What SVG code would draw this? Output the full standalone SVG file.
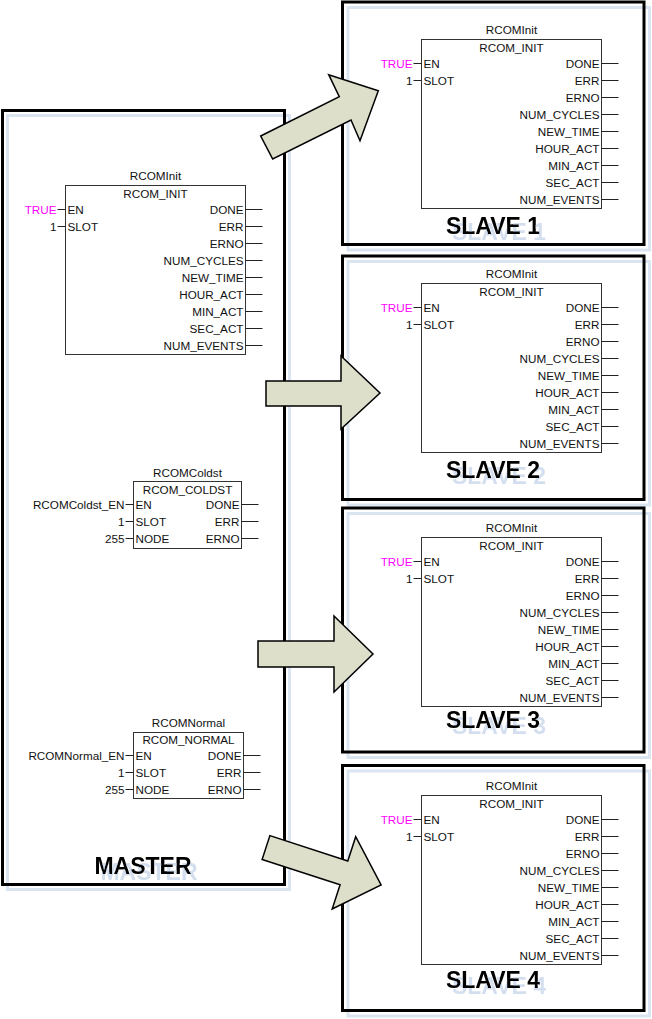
<svg xmlns="http://www.w3.org/2000/svg" width="652" height="1019" viewBox="0 0 652 1019">
<style>
text{font-family:"Liberation Sans",Arial,sans-serif;font-size:11.7px;fill:#111}
.m{text-anchor:middle}
.e{text-anchor:end}
.t{fill:#ff00ff}
.box{fill:#fff;stroke:#333;stroke-width:1}
.pin{stroke:#222;stroke-width:1}
.frame{fill:none;stroke:#000;stroke-width:3}
.shadow{fill:none;stroke:#dbe5f1;stroke-width:3}
.big{font-size:23px;font-weight:bold;fill:#000;text-anchor:middle;filter:url(#ts)}
.arrow{fill:#dddfcb;stroke:#000;stroke-width:1.5;stroke-linejoin:miter}
</style>
<defs>
<filter id="ts" x="-20%" y="-50%" width="140%" height="200%">
<feOffset in="SourceAlpha" dx="6" dy="6" result="o"/>
<feFlood flood-color="#d3deee"/>
<feComposite in2="o" operator="in" result="s"/>
<feMerge><feMergeNode in="s"/><feMergeNode in="SourceGraphic"/></feMerge>
</filter>
</defs>
<rect width="652" height="1019" fill="#fff"/>

<!-- frame shadows -->
<g id="shadows">
<rect class="shadow" x="7.5" y="115.5" width="282" height="774"/>
<rect class="shadow" x="348" y="7.5" width="301.5" height="242.5"/>
<rect class="shadow" x="348" y="261.5" width="301.5" height="243.5"/>
<rect class="shadow" x="348" y="513.5" width="301.5" height="244"/>
<rect class="shadow" x="348" y="771" width="301.5" height="245"/>
</g>

<!-- MASTER -->
<g id="master">
<rect class="frame" x="2.5" y="110.5" width="282" height="774"/>
<text class="big" x="143" y="874">MASTER</text>

<g id="master-rcominit" transform="translate(65.5,185.5)">
<text class="m" x="90" y="-6">RCOMInit</text>
<rect class="box" x="0" y="0" width="180" height="169"/>
<text class="m" x="90" y="12">RCOM_INIT</text>
<line class="pin" x1="-8" y1="24" x2="0" y2="24"/><line class="pin" x1="-8" y1="41" x2="0" y2="41"/>
<text class="e t" x="-9" y="28">TRUE</text><text class="e" x="-9" y="45">1</text>
<text x="2" y="28">EN</text><text x="2" y="45">SLOT</text>
<g class="pin"><line x1="180" y1="24" x2="197" y2="24"/><line x1="180" y1="41" x2="197" y2="41"/><line x1="180" y1="58" x2="197" y2="58"/><line x1="180" y1="75" x2="197" y2="75"/><line x1="180" y1="92" x2="197" y2="92"/><line x1="180" y1="109" x2="197" y2="109"/><line x1="180" y1="126" x2="197" y2="126"/><line x1="180" y1="143" x2="197" y2="143"/><line x1="180" y1="160" x2="197" y2="160"/></g>
<text class="e" x="178" y="28">DONE</text><text class="e" x="178" y="45">ERR</text><text class="e" x="178" y="62">ERNO</text><text class="e" x="178" y="79">NUM_CYCLES</text><text class="e" x="178" y="96">NEW_TIME</text><text class="e" x="178" y="113">HOUR_ACT</text><text class="e" x="178" y="130">MIN_ACT</text><text class="e" x="178" y="147">SEC_ACT</text><text class="e" x="178" y="164">NUM_EVENTS</text>
</g>

<g id="master-rcomcoldst" transform="translate(133.5,481.5)">
<text class="m" x="54" y="-5">RCOMColdst</text>
<rect class="box" x="0" y="0" width="108" height="67"/>
<text class="m" x="54" y="12">RCOM_COLDST</text>
<g class="pin"><line x1="-8" y1="23" x2="0" y2="23"/><line x1="-8" y1="40" x2="0" y2="40"/><line x1="-8" y1="57" x2="0" y2="57"/><line x1="108" y1="23" x2="125" y2="23"/><line x1="108" y1="40" x2="125" y2="40"/><line x1="108" y1="57" x2="125" y2="57"/></g>
<text class="e" x="-9" y="27">RCOMColdst_EN</text><text class="e" x="-9" y="44">1</text><text class="e" x="-9" y="61">255</text>
<text x="2" y="27">EN</text><text x="2" y="44">SLOT</text><text x="2" y="61">NODE</text>
<text class="e" x="106" y="27">DONE</text><text class="e" x="106" y="44">ERR</text><text class="e" x="106" y="61">ERNO</text>
</g>

<g id="master-rcomnormal" transform="translate(133.5,732.5)">
<text class="m" x="55" y="-6">RCOMNormal</text>
<rect class="box" x="0" y="0" width="110" height="66"/>
<text class="m" x="55" y="11">RCOM_NORMAL</text>
<g class="pin"><line x1="-8" y1="23" x2="0" y2="23"/><line x1="-8" y1="40" x2="0" y2="40"/><line x1="-8" y1="57" x2="0" y2="57"/><line x1="110" y1="23" x2="127" y2="23"/><line x1="110" y1="40" x2="127" y2="40"/><line x1="110" y1="57" x2="127" y2="57"/></g>
<text class="e" x="-9" y="27">RCOMNormal_EN</text><text class="e" x="-9" y="44">1</text><text class="e" x="-9" y="61">255</text>
<text x="2" y="27">EN</text><text x="2" y="44">SLOT</text><text x="2" y="61">NODE</text>
<text class="e" x="108" y="27">DONE</text><text class="e" x="108" y="44">ERR</text><text class="e" x="108" y="61">ERNO</text>
</g>
</g>

<!-- SLAVE 1 -->
<g id="slave1">
<rect class="frame" x="342.5" y="2" width="301.5" height="242.5"/>
<text class="big" x="493" y="234">SLAVE 1</text>
<g transform="translate(421.5,39.5)">
<text class="m" x="90" y="-6">RCOMInit</text>
<rect class="box" x="0" y="0" width="180" height="169"/>
<text class="m" x="90" y="12">RCOM_INIT</text>
<line class="pin" x1="-8" y1="24" x2="0" y2="24"/><line class="pin" x1="-8" y1="41" x2="0" y2="41"/>
<text class="e t" x="-9" y="28">TRUE</text><text class="e" x="-9" y="45">1</text>
<text x="2" y="28">EN</text><text x="2" y="45">SLOT</text>
<g class="pin"><line x1="180" y1="24" x2="197" y2="24"/><line x1="180" y1="41" x2="197" y2="41"/><line x1="180" y1="58" x2="197" y2="58"/><line x1="180" y1="75" x2="197" y2="75"/><line x1="180" y1="92" x2="197" y2="92"/><line x1="180" y1="109" x2="197" y2="109"/><line x1="180" y1="126" x2="197" y2="126"/><line x1="180" y1="143" x2="197" y2="143"/><line x1="180" y1="160" x2="197" y2="160"/></g>
<text class="e" x="178" y="28">DONE</text><text class="e" x="178" y="45">ERR</text><text class="e" x="178" y="62">ERNO</text><text class="e" x="178" y="79">NUM_CYCLES</text><text class="e" x="178" y="96">NEW_TIME</text><text class="e" x="178" y="113">HOUR_ACT</text><text class="e" x="178" y="130">MIN_ACT</text><text class="e" x="178" y="147">SEC_ACT</text><text class="e" x="178" y="164">NUM_EVENTS</text>
</g>
</g>

<!-- SLAVE 2 -->
<g id="slave2">
<rect class="frame" x="342.5" y="256" width="301.5" height="243.5"/>
<text class="big" x="493" y="478">SLAVE 2</text>
<g transform="translate(421.5,283.5)">
<text class="m" x="90" y="-6">RCOMInit</text>
<rect class="box" x="0" y="0" width="180" height="169"/>
<text class="m" x="90" y="12">RCOM_INIT</text>
<line class="pin" x1="-8" y1="24" x2="0" y2="24"/><line class="pin" x1="-8" y1="41" x2="0" y2="41"/>
<text class="e t" x="-9" y="28">TRUE</text><text class="e" x="-9" y="45">1</text>
<text x="2" y="28">EN</text><text x="2" y="45">SLOT</text>
<g class="pin"><line x1="180" y1="24" x2="197" y2="24"/><line x1="180" y1="41" x2="197" y2="41"/><line x1="180" y1="58" x2="197" y2="58"/><line x1="180" y1="75" x2="197" y2="75"/><line x1="180" y1="92" x2="197" y2="92"/><line x1="180" y1="109" x2="197" y2="109"/><line x1="180" y1="126" x2="197" y2="126"/><line x1="180" y1="143" x2="197" y2="143"/><line x1="180" y1="160" x2="197" y2="160"/></g>
<text class="e" x="178" y="28">DONE</text><text class="e" x="178" y="45">ERR</text><text class="e" x="178" y="62">ERNO</text><text class="e" x="178" y="79">NUM_CYCLES</text><text class="e" x="178" y="96">NEW_TIME</text><text class="e" x="178" y="113">HOUR_ACT</text><text class="e" x="178" y="130">MIN_ACT</text><text class="e" x="178" y="147">SEC_ACT</text><text class="e" x="178" y="164">NUM_EVENTS</text>
</g>
</g>

<!-- SLAVE 3 -->
<g id="slave3">
<rect class="frame" x="342.5" y="508" width="301.5" height="244"/>
<text class="big" x="493" y="728">SLAVE 3</text>
<g transform="translate(421.5,537.5)">
<text class="m" x="90" y="-6">RCOMInit</text>
<rect class="box" x="0" y="0" width="180" height="169"/>
<text class="m" x="90" y="12">RCOM_INIT</text>
<line class="pin" x1="-8" y1="24" x2="0" y2="24"/><line class="pin" x1="-8" y1="41" x2="0" y2="41"/>
<text class="e t" x="-9" y="28">TRUE</text><text class="e" x="-9" y="45">1</text>
<text x="2" y="28">EN</text><text x="2" y="45">SLOT</text>
<g class="pin"><line x1="180" y1="24" x2="197" y2="24"/><line x1="180" y1="41" x2="197" y2="41"/><line x1="180" y1="58" x2="197" y2="58"/><line x1="180" y1="75" x2="197" y2="75"/><line x1="180" y1="92" x2="197" y2="92"/><line x1="180" y1="109" x2="197" y2="109"/><line x1="180" y1="126" x2="197" y2="126"/><line x1="180" y1="143" x2="197" y2="143"/><line x1="180" y1="160" x2="197" y2="160"/></g>
<text class="e" x="178" y="28">DONE</text><text class="e" x="178" y="45">ERR</text><text class="e" x="178" y="62">ERNO</text><text class="e" x="178" y="79">NUM_CYCLES</text><text class="e" x="178" y="96">NEW_TIME</text><text class="e" x="178" y="113">HOUR_ACT</text><text class="e" x="178" y="130">MIN_ACT</text><text class="e" x="178" y="147">SEC_ACT</text><text class="e" x="178" y="164">NUM_EVENTS</text>
</g>
</g>

<!-- SLAVE 4 -->
<g id="slave4">
<rect class="frame" x="342.5" y="765.5" width="301.5" height="245"/>
<text class="big" x="493" y="988">SLAVE 4</text>
<g transform="translate(421.5,795.5)">
<text class="m" x="90" y="-6">RCOMInit</text>
<rect class="box" x="0" y="0" width="180" height="169"/>
<text class="m" x="90" y="12">RCOM_INIT</text>
<line class="pin" x1="-8" y1="24" x2="0" y2="24"/><line class="pin" x1="-8" y1="41" x2="0" y2="41"/>
<text class="e t" x="-9" y="28">TRUE</text><text class="e" x="-9" y="45">1</text>
<text x="2" y="28">EN</text><text x="2" y="45">SLOT</text>
<g class="pin"><line x1="180" y1="24" x2="197" y2="24"/><line x1="180" y1="41" x2="197" y2="41"/><line x1="180" y1="58" x2="197" y2="58"/><line x1="180" y1="75" x2="197" y2="75"/><line x1="180" y1="92" x2="197" y2="92"/><line x1="180" y1="109" x2="197" y2="109"/><line x1="180" y1="126" x2="197" y2="126"/><line x1="180" y1="143" x2="197" y2="143"/><line x1="180" y1="160" x2="197" y2="160"/></g>
<text class="e" x="178" y="28">DONE</text><text class="e" x="178" y="45">ERR</text><text class="e" x="178" y="62">ERNO</text><text class="e" x="178" y="79">NUM_CYCLES</text><text class="e" x="178" y="96">NEW_TIME</text><text class="e" x="178" y="113">HOUR_ACT</text><text class="e" x="178" y="130">MIN_ACT</text><text class="e" x="178" y="147">SEC_ACT</text><text class="e" x="178" y="164">NUM_EVENTS</text>
</g>
</g>

<!-- connectors: block arrows -->
<g id="connectors">
<polygon class="arrow" points="260.7,136 339.3,96.7 328.7,74.7 378.3,90.7 360,140.7 351,120 272.7,159"/>
<polygon class="arrow" points="266,381 341,381 341,356 380,393 341,429 341,406 266,406"/>
<polygon class="arrow" points="258,641 334,641 334,616 373,654 334,692 334,667 258,667"/>
<polygon class="arrow" points="269.9,835.6 347.8,861 355.7,836.7 381.1,884.9 332.2,909 340.1,884.7 262.1,859.4"/>
</g>
</svg>
